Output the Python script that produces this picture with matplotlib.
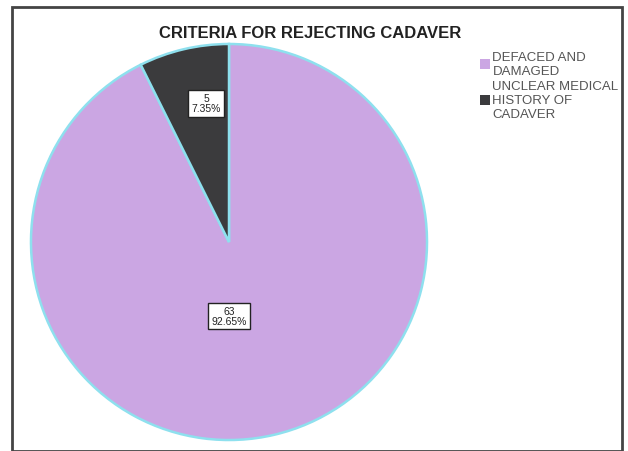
import matplotlib
matplotlib.use("Agg")
import matplotlib.pyplot as plt
from matplotlib.patches import Rectangle, Patch

categories = ["DEFACED AND\nDAMAGED", "UNCLEAR MEDICAL\nHISTORY OF\nCADAVER"]
counts = [63, 5]
percents = ["92.65%", "7.35%"]
colors = ["#CBA6E3", "#3B3B3D"]
title = "CRITERIA FOR REJECTING CADAVER"

W, H = 628, 452
fig = plt.figure(figsize=(W / 100, H / 100), dpi=100)
fig.patch.set_facecolor("white")

# outer frame
fig.patches.append(Rectangle((12 / W, 0 / H), (622 - 12) / W, (452 - 8) / H,
                             transform=fig.transFigure, fill=False,
                             edgecolor="#444444", linewidth=2))

cx, cy, r = 229, 243, 200
ax = fig.add_axes([(cx - r) / W, (H - cy - r) / H, 2 * r / W, 2 * r / H])
wedges, _ = ax.pie(counts, colors=colors, startangle=90, counterclock=False,
                   radius=1.0,
                   wedgeprops=dict(edgecolor="#8EE0EE", linewidth=1.8))
ax.set_xlim(-1.01, 1.01)
ax.set_ylim(-1.01, 1.01)
ax.axis("off")

# value labels
label_pos = [(0.0, -0.375), (-0.115, 0.70)]
for (x, y), c, p in zip(label_pos, counts, percents):
    ax.text(x, y, f"{c}\n{p}", ha="center", va="center", fontsize=7.5,
            family="Liberation Sans", color="#222222", linespacing=1.0,
            bbox=dict(boxstyle="square,pad=0.3", facecolor="white",
                      edgecolor="#222222", linewidth=1))

fig.text((158 + 463) / 2 / W, 1 - 33 / H, title, ha="center", va="center",
         fontsize=12, fontweight="bold", family="Liberation Sans",
         color="#222222")

handles = [Patch(facecolor=c, edgecolor="none") for c in colors]
leg = fig.legend(handles, categories, loc="upper left",
                 bbox_to_anchor=(468 / W, 1 - 40 / H),
                 frameon=False, handlelength=0.75, handleheight=0.75,
                 handletextpad=0.2, labelspacing=0.25,
                 prop=dict(family="Liberation Sans", size=9.5))
for t in leg.get_texts():
    t.set_color("#555555")
    t.set_linespacing(1.2)

fig.savefig("out.png", dpi=100, facecolor="white")
